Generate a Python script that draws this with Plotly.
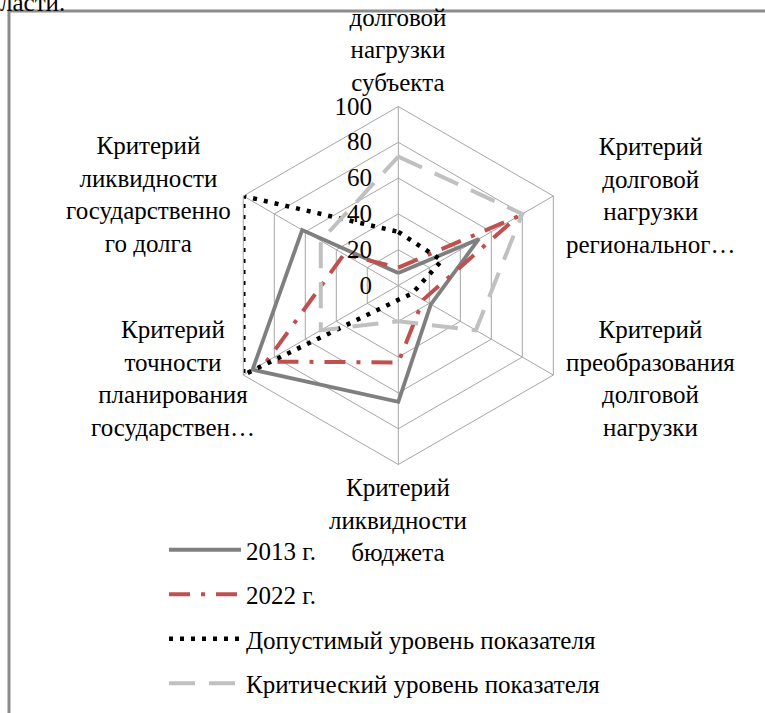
import plotly.graph_objects as go

W, H = 765, 713

categories = [
    "Критерий долговой нагрузки субъекта",
    "Критерий долговой нагрузки регионального…",
    "Критерий преобразования долговой нагрузки",
    "Критерий ликвидности бюджета",
    "Критерий точности планирования государствен…",
    "Критерий ликвидности государственного долга",
]
category_labels = [
    "Критерий<br>долговой<br>нагрузки<br>субъекта",
    "Критерий<br>долговой<br>нагрузки<br>региональног…",
    "Критерий<br>преобразования<br>долговой<br>нагрузки",
    "Критерий<br>ликвидности<br>бюджета",
    "Критерий<br>точности<br>планирования<br>государствен…",
    "Критерий<br>ликвидности<br>государственно<br>го долга",
]
series_names = ["2013 г.", "2022 г.", "Допустимый уровень показателя", "Критический уровень показателя"]
values_2013 = [7, 52, 21, 65, 94, 62]
values_2022 = [10, 77, 16, 43, 85, 35]
values_allowed = [30, 28, 9, 8, 100, 100]
values_critical = [72, 80, 50, 20, 50, 50]
radial_ticks = [0, 20, 40, 60, 80, 100]

FONT = "Liberation Serif"
FS = 25

styles = [
    dict(color="#7f7f7f", width=3.8, dash="solid"),
    dict(color="#c0504d", width=4, dash="21px,11px,4px,11px"),
    dict(color="#000000", width=4.5, dash="4px,7px"),
    dict(color="#c0c0c0", width=4, dash="26px,14px"),
]

fig = go.Figure()
for i, (name, vals) in enumerate(zip(series_names, [values_2013, values_2022, values_allowed, values_critical])):
    fig.add_trace(go.Scatterpolar(
        r=vals + vals[:1],
        theta=categories + categories[:1],
        mode="lines",
        name=name,
        legendgroup=f"g{i}",
        line=styles[i],
    ))


def px(x):
    return x / W


def py(y):
    return 1 - y / H


cx, cy, R = 398.3, 285.5, 179
fig.update_layout(
    width=W, height=H,
    margin=dict(l=0, r=0, t=0, b=0),
    paper_bgcolor="white",
    plot_bgcolor="white",
    font=dict(family=FONT, size=FS, color="black"),
    polar=dict(
        domain=dict(x=[px(cx - R), px(cx + R)], y=[py(cy + R), py(cy - R)]),
        bgcolor="rgba(0,0,0,0)",
        gridshape="linear",
        angularaxis=dict(
            rotation=90, direction="clockwise",
            showticklabels=False, ticks="",
            showline=True, linecolor="#a6a6a6", linewidth=1,
            showgrid=True, gridcolor="#a6a6a6", gridwidth=1,
        ),
        radialaxis=dict(
            range=[0, 100], tickvals=radial_ticks,
            ticks="outside", ticklen=17, tickcolor="rgba(0,0,0,0)",
            angle=90, side="counterclockwise", tickangle=90,
            showline=False, showgrid=True, gridcolor="#a6a6a6", gridwidth=1,
            tickfont=dict(family=FONT, size=FS, color="black"),
        ),
    ),
    showlegend=True,
    legend=dict(
        x=px(164), y=py(527), xanchor="left", yanchor="top",
        bgcolor="rgba(0,0,0,0)", itemwidth=72, tracegroupgap=9,
        font=dict(family=FONT, size=FS, color="black"),
        traceorder="grouped",
    ),
)

label_pos = [(398, 33), (650, 195), (650, 379), (398, 520), (173, 379), (148, 194)]
for txt, (lx, ly) in zip(category_labels, label_pos):
    fig.add_annotation(
        text=txt, x=px(lx), y=py(ly), xref="paper", yref="paper",
        xanchor="center", yanchor="middle", showarrow=False, align="center",
        font=dict(family=FONT, size=FS, color="black"),
    )

fig.add_annotation(
    text="ласти.", x=px(-2), y=py(-13), xref="paper", yref="paper",
    xanchor="left", yanchor="top", showarrow=False,
    font=dict(family=FONT, size=FS, color="black"),
)

fig.add_shape(type="rect", xref="paper", yref="paper",
              x0=px(9), y0=-0.2, x1=1.2, y1=py(11),
              line=dict(color="#8c8c8c", width=3), layer="below")

fig.write_html("out.html", config={"displayModeBar": False},
               post_script="document.body.style.margin='0';")
